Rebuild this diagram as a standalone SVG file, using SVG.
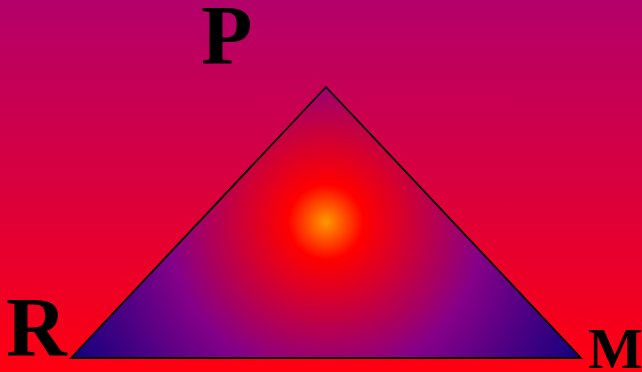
<svg xmlns="http://www.w3.org/2000/svg" width="642" height="372" viewBox="0 0 642 372">
  <defs>
    <linearGradient id="bg" x1="0" y1="0" x2="0" y2="372" gradientUnits="userSpaceOnUse">
      <stop offset="0" stop-color="#b3006b"/>
      <stop offset="1" stop-color="#ff0010"/>
    </linearGradient>
    <radialGradient id="tri" cx="326" cy="222" r="290" gradientUnits="userSpaceOnUse">
      <stop offset="0" stop-color="#ff9900"/>
      <stop offset="0.13" stop-color="#ff0000"/>
      <stop offset="0.54" stop-color="#850088"/>
      <stop offset="1" stop-color="#10007e"/>
    </radialGradient>
    <style>
      .lbl { font-family: "Liberation Serif", "Times New Roman", serif; font-weight: bold; fill: #000; }
    </style>
  </defs>
  <rect x="0" y="0" width="642" height="372" fill="url(#bg)"/>
  <g id="triangle">
    <polygon points="326,87 71,358 581,358" fill="url(#tri)" stroke="#000" stroke-width="1.8" stroke-linejoin="miter"/>
  </g>
  <g id="label-P"><text class="lbl" x="201" y="64" font-size="84">P</text></g>
  <g id="label-R"><text class="lbl" x="6" y="356" font-size="84">R</text></g>
  <g id="label-M"><text class="lbl" x="588" y="368" font-size="58">M</text></g>
</svg>
